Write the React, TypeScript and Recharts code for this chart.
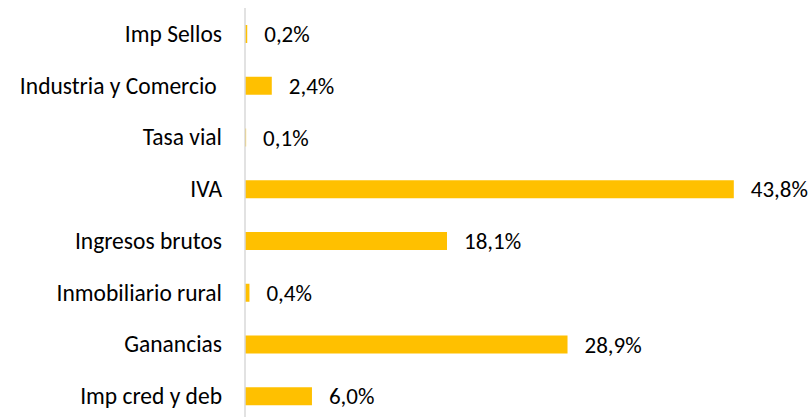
import React from 'react';
import { BarChart, Bar, XAxis, YAxis, LabelList, Cell } from 'recharts';

// categorías de arriba hacia abajo
const categories = [
  'Imp Sellos',
  'Industria y Comercio ',
  'Tasa vial',
  'IVA',
  'Ingresos brutos',
  'Inmobiliario rural',
  'Ganancias',
  'Imp cred y deb',
];

// participación en %
const shares = [0.2, 2.4, 0.1, 43.8, 18.1, 0.4, 28.9, 6.0];

const data = categories.map((name, i) => ({ name, value: shares[i] }));

const FONT = 'Carlito, Calibri, Lato, sans-serif';
const GOLD = '#FFC000';

const fmt = (v: any) => `${Number(v).toFixed(1).replace('.', ',')}%`;

const CategoryTick = (props: any) => {
  const { x, y, payload } = props;
  return (
    <text
      x={x}
      y={y}
      textAnchor="end"
      dominantBaseline="central"
      xmlSpace="preserve"
      fill="#000"
      fontSize={23.5}
      fontFamily={FONT}
    >
      {payload.value}
    </text>
  );
};

export default function App() {
  return (
    <div
      style={{
        position: 'fixed',
        left: 0,
        top: 0,
        width: 811,
        height: 417,
        overflow: 'hidden',
        background: '#fff',
      }}
    >
      <BarChart
        width={811}
        height={422}
        data={data}
        layout="vertical"
        margin={{ top: 8, right: 8, bottom: 0, left: 0 }}
      >
        <XAxis type="number" domain={[0, 50]} hide />
        <YAxis
          type="category"
          dataKey="name"
          width={245}
          tickLine={false}
          tickSize={0}
          tickMargin={23}
          axisLine={{ stroke: '#D9D9D9', strokeWidth: 1.5 }}
          tick={<CategoryTick />}
          interval={0}
        />
        <Bar dataKey="value" barSize={18} fill={GOLD} isAnimationActive={false}>
          {data.map((_, i) => (
            <Cell key={i} fill={GOLD} />
          ))}
          <LabelList
            dataKey="value"
            position="right"
            offset={17}
            formatter={fmt}
            fill="#000"
            fontSize={23}
            fontFamily={FONT}
          />
        </Bar>
      </BarChart>
    </div>
  );
}
